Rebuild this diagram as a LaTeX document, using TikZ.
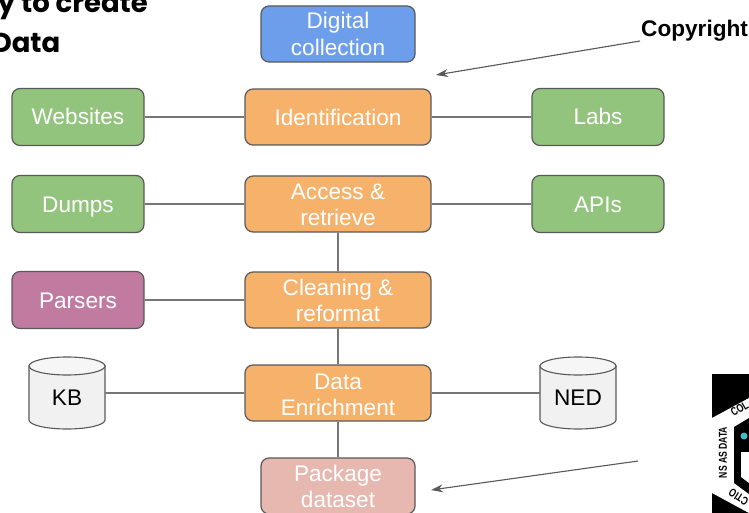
\documentclass[tikz,border=0pt]{standalone}
\usepackage{fontspec}
\setmainfont{Liberation Sans}
\newfontfamily\titlefont{Poppins}
\usetikzlibrary{shapes.geometric,arrows.meta}
\definecolor{edgegray}{HTML}{595959}
\definecolor{linegray}{HTML}{767676}
\definecolor{cblue}{HTML}{6D9EEB}
\definecolor{corange}{HTML}{F6B26B}
\definecolor{cgreen}{HTML}{93C47D}
\definecolor{cpurple}{HTML}{C27BA0}
\definecolor{cpink}{HTML}{E6B8AF}
\definecolor{cteal}{HTML}{3FBFC4}
\definecolor{drumbody}{HTML}{F1F1F1}
\definecolor{drumtop}{HTML}{F6F6F6}
\newcommand{\liftA}{\rule{0pt}{17.6pt}}
\newcommand{\liftB}{\rule{0pt}{19.4pt}}
\newcommand{\logoscale}[1]{\scalebox{0.75}[1]{#1}}
\tikzset{
  basebox/.style={draw=edgegray,line width=1.2pt,rounded corners=8pt,text=white,align=center,inner sep=0pt,
    font=\fontsize{22.6}{26.5}\selectfont},
  stepbox/.style={basebox,fill=corange,minimum width=186pt,minimum height=56pt},
  sidebox/.style={basebox,fill=cgreen,minimum width=132pt,minimum height=57pt,text height=16pt,text depth=0pt},
  endbox/.style={basebox,minimum width=154pt,minimum height=56pt},
  store/.style={inner sep=0pt,minimum width=76pt,minimum height=72pt,text=black,text height=16pt,text depth=0pt,
    font=\fontsize{22.6}{26.5}\selectfont},
  drum/.style={draw=edgegray,line width=1.1pt},
  link/.style={draw=linegray,line width=1.2pt},
  note/.style={draw=edgegray,line width=1.1pt,-{Stealth[length=12pt,width=8pt]}},
  titletext/.style={inner sep=0pt,anchor=base east,text=black,font=\titlefont\bfseries\fontsize{27.5}{30}\selectfont},
  logotext/.style={inner sep=0pt,text=black,font=\bfseries\fontsize{11.5}{12}\selectfont}
}
\begin{document}
\begin{tikzpicture}[x=1pt,y=-1pt]
\useasboundingbox (0,0) rectangle (749,513);
\begin{scope}
\clip (0,0) rectangle (749,513);
\fill[white] (0,0) rectangle (749,513);
% title fragments
\node[titletext] (titleone) at (148,13) {y to create};
\node[titletext] (titletwo) at (60.5,53) {Data};
% logo
\fill[black] (712,374) rectangle (749,513);
\fill[white] (712,418) -- (749,398) -- (749,513) -- (712,493) -- cycle;
\fill[black] (734,427) -- (749,418) -- (749,494) -- (734,483) -- cycle;
\fill[cteal] (744,436) circle (3.5);
\fill[white] (741,452) -- (749,452) -- (749,483) -- (741,477) -- cycle;
\node[logotext,rotate=30] (logoa) at (739.5,409) {\logoscale{COL}};
\node[logotext,rotate=90] (logob) at (723,452.5) {\logoscale{NS AS DATA}};
\node[logotext,rotate=148] (logoc) at (738.5,497) {\logoscale{CTIO}};
% drums
\path[drum,fill=drumbody] (29,366) -- (29,420) arc[start angle=180,end angle=0,x radius=38,y radius=9] -- (105,366) -- cycle;
\path[drum,fill=drumtop] (67,366) ellipse[x radius=38,y radius=9];
\path[drum,fill=drumbody] (540,366) -- (540,420) arc[start angle=180,end angle=0,x radius=38,y radius=9] -- (616,366) -- cycle;
\path[drum,fill=drumtop] (578,366) ellipse[x radius=38,y radius=9];
% boxes
\node[endbox,fill=cblue] (digital) at (338,34) {Digital\\collection};
\node[stepbox] (ident) at (338,117) {Identification};
\node[stepbox] (access) at (338,204) {\liftA Access \&\\retrieve};
\node[stepbox] (clean) at (338,300) {\liftA Cleaning \&\\reformat};
\node[stepbox] (enrich) at (338,393) {\liftB Data\\Enrichment};
\node[endbox,fill=cpink] (package) at (338,486) {\liftA Package\\dataset};
\node[sidebox] (web) at (78,117) {Websites};
\node[sidebox] (labs) at (598,117) {Labs};
\node[sidebox] (dumps) at (78,204) {Dumps};
\node[sidebox] (apis) at (598,204) {APIs};
\node[sidebox,fill=cpurple] (parsers) at (78,300) {Parsers};
\node[store] (kb) at (67,393) {\raisebox{-4pt}{KB}};
\node[store] (ned) at (578,393) {\raisebox{-4.5pt}{NED}};
% connectors
\draw[link] (web) -- (ident);
\draw[link] (ident) -- (labs);
\draw[link] (dumps) -- (access);
\draw[link] (access) -- (apis);
\draw[link] (parsers) -- (clean);
\draw[link] (kb) -- (enrich);
\draw[link] (enrich) -- (ned);
\draw[link] (access) -- (clean);
\draw[link] (clean) -- (enrich);
\draw[link] (enrich) -- (package);
% notes
\node[inner sep=0pt,anchor=base west,font=\bfseries\fontsize{22.6}{26}\selectfont,text=black] (copy) at (641,37) {Copyright};
\coordinate (copystart) at (640,41);
\coordinate (copyend) at (436,75);
\coordinate (pkgstart) at (638,461);
\coordinate (pkgend) at (431,490);
\draw[note] (copystart) -- (copyend);
\draw[note] (pkgstart) -- (pkgend);
\end{scope}
\end{tikzpicture}
\end{document}
